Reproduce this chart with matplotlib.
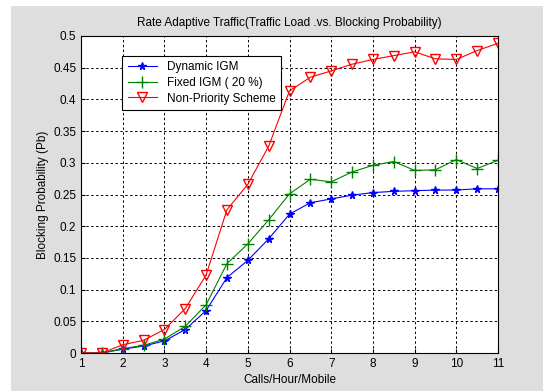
import matplotlib
matplotlib.use("Agg")
import matplotlib.pyplot as plt
from matplotlib.patches import Rectangle

x = [1, 1.5, 2, 2.5, 3, 3.5, 4, 4.5, 5, 5.5, 6, 6.5, 7, 7.5, 8, 8.5, 9, 9.5, 10, 10.5, 11]
dynamic_igm = [0, 0, 0.006, 0.011, 0.019, 0.037, 0.067, 0.119, 0.146, 0.180, 0.219, 0.237,
               0.243, 0.249, 0.253, 0.255, 0.256, 0.257, 0.257, 0.259, 0.259]
fixed_igm = [0, 0, 0.007, 0.012, 0.022, 0.042, 0.076, 0.141, 0.172, 0.210, 0.251, 0.274,
             0.270, 0.2855, 0.296, 0.302, 0.288, 0.289, 0.305, 0.291, 0.304]
non_priority = [0, 0, 0.013, 0.020, 0.037, 0.070, 0.123, 0.226, 0.266, 0.326, 0.4135, 0.435,
                0.445, 0.4555, 0.463, 0.469, 0.475, 0.464, 0.463, 0.477, 0.4885]
labels = ["Dynamic IGM", "Fixed IGM ( 20 %)", "Non-Priority Scheme"]
xticks = [1, 2, 3, 4, 5, 6, 7, 8, 9, 10, 11]
yticks = [0, 0.05, 0.1, 0.15, 0.2, 0.25, 0.3, 0.35, 0.4, 0.45, 0.5]
ytick_labels = ["0", "0.05", "0.1", "0.15", "0.2", "0.25", "0.3", "0.35", "0.4", "0.45", "0.5"]

plt.rcParams['font.family'] = ['Liberation Sans', 'DejaVu Sans']

W, H = 543, 391
fig = plt.figure(figsize=(W / 100, H / 100), dpi=100, facecolor="white")
fig.patches.append(Rectangle((11 / W, 0), 1, 1 - 6 / H, transform=fig.transFigure,
                             facecolor="#dedede", edgecolor="none", zorder=-10))

ax = fig.add_axes([81 / W, 1 - 353 / H, (498 - 81) / W, (353 - 36) / H])
ax.set_facecolor("white")

ax.plot(x, dynamic_igm, color="blue", marker="*", markersize=5.5, linewidth=0.8,
        label=labels[0])
ax.plot(x, fixed_igm, color="#008000", marker="+", markersize=8, linewidth=0.8,
        label=labels[1])
ax.plot(x, non_priority, color="red", marker="v", markersize=6.5, markerfacecolor="none",
        linewidth=0.8, label=labels[2])

ax.set_xlim(1, 11)
ax.set_ylim(0, 0.5)
ax.set_xticks(xticks)
ax.set_yticks(yticks)
ax.set_yticklabels(ytick_labels)
ax.grid(True, color="black", linestyle=(0, (2.5, 2.5)), linewidth=0.7)
ax.tick_params(direction="in", labelsize=8.5, length=3, colors="black")
for s in ax.spines.values():
    s.set_linewidth(0.8)

ax.set_title("Rate Adaptive Traffic(Traffic Load .vs. Blocking Probability)", fontsize=8.5, pad=7)
ax.set_xlabel("Calls/Hour/Mobile", fontsize=8.5, labelpad=3)
ax.set_ylabel("Blocking Probability (Pb)", fontsize=8.5, labelpad=3)

leg = ax.legend(loc="upper left", bbox_to_anchor=(0.085, 0.955), fontsize=8.5, frameon=True,
                fancybox=False, edgecolor="black", framealpha=1, borderpad=0.45,
                handlelength=2.5, labelspacing=0.3)
leg.get_frame().set_linewidth(0.8)

fig.savefig("out.png", dpi=100, facecolor=fig.get_facecolor())
